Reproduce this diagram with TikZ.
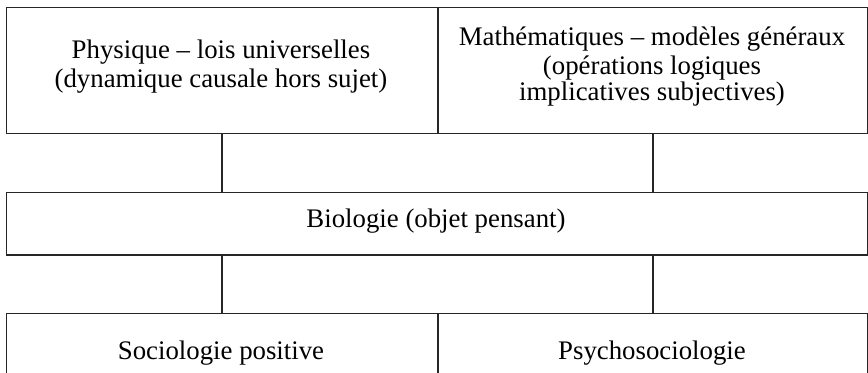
\documentclass[tikz,border=0pt]{standalone}
\usepackage{fontspec}
\setmainfont{Liberation Serif}
\begin{document}
\begin{tikzpicture}[x=0.5pt,y=-0.5pt,
  box/.style={draw=black!85, line width=0.75pt, inner sep=0pt, anchor=north west},
  link/.style={draw=black!85, line width=0.75pt},
  lbl/.style={font=\fontsize{13.4}{15}\selectfont, anchor=base, inner sep=0pt}]
\clip (0,0) rectangle (868,373);
\path[use as bounding box] (0,0) rectangle (868,373);
% boxes
\node[box, minimum width=215.75pt, minimum height=63pt] (phys) at (5.5,7) {};
\node[box, minimum width=215pt, minimum height=63pt] (math) at (437,7) {};
\node[box, minimum width=430.75pt, minimum height=31.25pt] (bio) at (5.5,192) {};
\node[box, minimum width=215.75pt, minimum height=35pt] (socio) at (5.5,313) {};
\node[box, minimum width=215pt, minimum height=35pt] (psycho) at (437,313) {};
% connectors
\draw[link] (phys.south) -- (phys.south |- bio.north);
\draw[link] (math.south) -- (math.south |- bio.north);
\draw[link] (socio.north |- bio.south) -- (socio.north);
\draw[link] (psycho.north |- bio.south) -- (psycho.north);
% texts
\node[lbl] (t1) at (221,59) {Physique – lois universelles};
\node[lbl] (t2) at (221,88) {(dynamique causale hors sujet)};
\node[lbl] (t3) at (652,46) {Mathématiques – modèles généraux};
\node[lbl] (t4) at (652,75) {(opérations logiques};
\node[lbl] (t5) at (652,101) {implicatives subjectives)};
\node[lbl] (t6) at (436,228) {Biologie (objet pensant)};
\node[lbl] (t7) at (221,360) {Sociologie positive};
\node[lbl] (t8) at (652,360) {Psychosociologie};
\end{tikzpicture}
\end{document}
